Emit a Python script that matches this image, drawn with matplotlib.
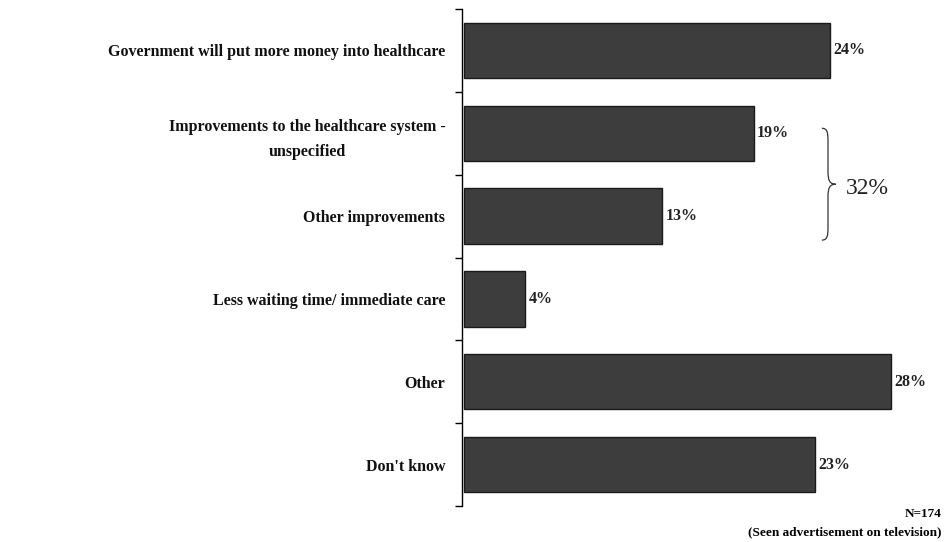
import matplotlib
matplotlib.use("Agg")
import matplotlib.pyplot as plt
from matplotlib.path import Path
from matplotlib.patches import PathPatch

categories = [
    "Government will put more money into healthcare",
    "Improvements to the healthcare system -\nunspecified",
    "Other improvements",
    "Less waiting time/ immediate care",
    "Other",
    "Don't know",
]
values = [24, 19, 13, 4, 28, 23]
value_labels = ["24%", "19%", "13%", "4%", "28%", "23%"]
group_total = "32%"
sample_note = "N=174"
base_note = "(Seen advertisement on television)"

plt.rcParams['font.family'] = ['Liberation Serif', 'DejaVu Serif']

fig = plt.figure(figsize=(9.48, 5.42), dpi=100)
ax = fig.add_axes([462 / 948, 1 - 506 / 542, 478 / 948, 497 / 542])

y = list(range(len(categories)))
ax.barh(y, values, height=0.67, left=0.12, color='#3d3d3d', edgecolor='#1a1a1a', linewidth=1.0)

for yi, v, lab in zip(y, values, value_labels):
    ax.text(v + 0.35, yi, lab, va='center', ha='left', fontsize=11.5, fontweight='bold', color='#222222')

ax.set_xlim(0, 478 / 15.25)
ax.set_ylim(len(categories) - 0.5, -0.5)

for s in ['top', 'right', 'bottom']:
    ax.spines[s].set_visible(False)
ax.spines['left'].set_linewidth(1.0)
ax.set_xticks([])
ax.set_yticks(y)
ax.set_yticklabels(categories, fontsize=11.5, fontweight='bold', multialignment='center',
                   linespacing=1.7, color='#111111')
ax.set_yticks([i - 0.5 for i in range(len(categories) + 1)], minor=True)
ax.tick_params(axis='y', which='major', length=0, pad=12)
ax.tick_params(axis='y', which='minor', length=5, width=1.0, direction='out')

# curly brace grouping the two "improvements" bars
x0, x1 = 23.6, 24.5
ytop, ybot = 0.94, 2.29
ymid = (ytop + ybot) / 2
codes = [Path.MOVETO,
         Path.CURVE4, Path.CURVE4, Path.CURVE4,
         Path.LINETO,
         Path.CURVE4, Path.CURVE4, Path.CURVE4,
         Path.CURVE4, Path.CURVE4, Path.CURVE4,
         Path.LINETO,
         Path.CURVE4, Path.CURVE4, Path.CURVE4]
verts = [
    (x0, ytop),
    (x0 + 0.35, ytop), (x0 + 0.4, ytop + 0.05), (x0 + 0.4, ytop + 0.15),
    (x0 + 0.4, ymid - 0.15),
    (x0 + 0.4, ymid - 0.05), (x0 + 0.5, ymid), (x1, ymid),
    (x0 + 0.5, ymid), (x0 + 0.4, ymid + 0.05), (x0 + 0.4, ymid + 0.15),
    (x0 + 0.4, ybot - 0.15),
    (x0 + 0.4, ybot - 0.05), (x0 + 0.35, ybot), (x0, ybot),
]
ax.add_patch(PathPatch(Path(verts, codes), fill=False, lw=0.9, color='#333333', clip_on=False))
ax.text(25.2, ymid + 0.05, group_total, ha='left', va='center', fontsize=17, color='#222222')

fig.text(942 / 948, 1 - 514 / 542, sample_note, ha='right', va='center', fontsize=9.5, fontweight='bold')
fig.text(942 / 948, 1 - 532 / 542, base_note, ha='right', va='center', fontsize=9.5, fontweight='bold')

fig.savefig("out.png", dpi=100)
